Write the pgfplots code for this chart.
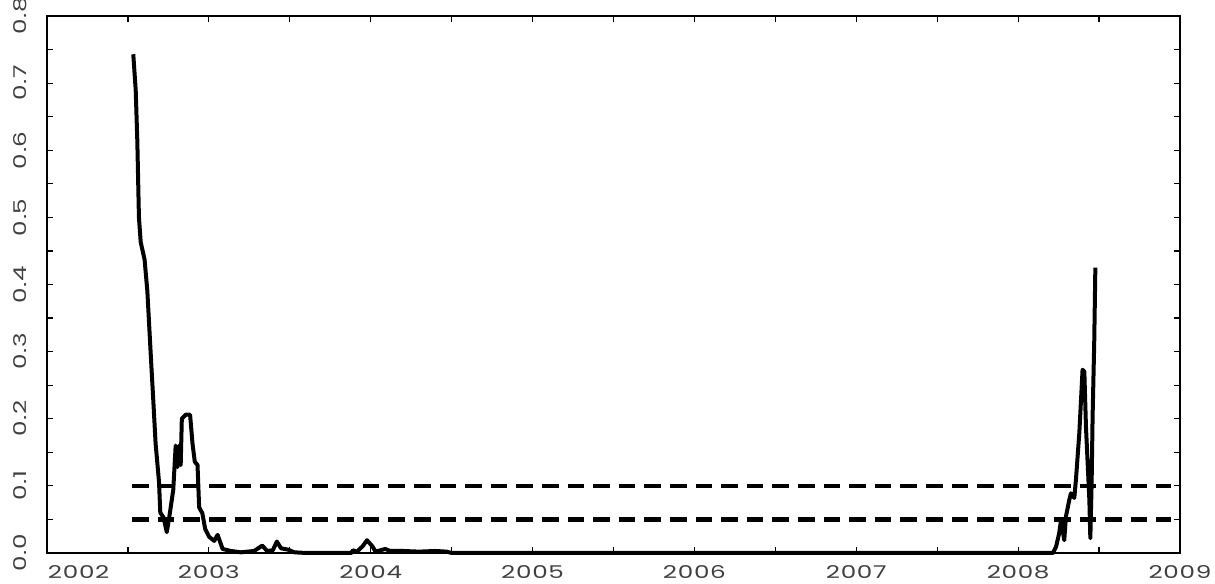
\documentclass[border=0pt]{standalone}
\usepackage{pgfplots}
\pgfplotsset{compat=1.18}
\usepackage{fontspec}
\setmainfont{Poppins}[FakeStretch=1.4, LetterSpace=4]
\newcommand\yl[1]{\rotatebox{90}{\smash{#1}}}
\begin{document}
\begin{tikzpicture}
\begin{axis}[
  scale only axis, width=566.5pt, height=268.5pt,
  xmin=2002, xmax=2009, ymin=0, ymax=0.8,
  clip=false,
  axis line style={line width=1pt},
  tick style={black, line width=0.6pt},
  tick align=inside, major tick length=3pt, minor tick length=3pt,
  xtick={2003,2004,2005,2006,2007,2008,2009},
  xticklabels={2003,2004,2005,2006,2007,2008,2009},
  minor xtick={2002.5,2003.5,2004.5,2005.5,2006.5,2007.5,2008.5},
  extra x ticks={2002}, extra x tick labels={\makebox[0pt][l]{\hspace*{0.5pt}2002}},
  ytick={0,0.1,0.2,0.3,0.4,0.5,0.6,0.7,0.8},
  yticklabels={\yl{0.0},\yl{0.1},\yl{0.2},\yl{0.3},\yl{0.4},\yl{0.5},\yl{0.6},\yl{0.7},\yl{0.8}},
  minor ytick={0.05,0.15,0.25,0.35,0.45,0.55,0.65,0.75},
  tick label style={font=\fontsize{8.8}{10}\selectfont, text=black!75, inner sep=0pt},
  xticklabel style={anchor=north, text height=6.2pt, text depth=0pt},
  xticklabel shift=6.5pt,
  yticklabel style={anchor=east},
  yticklabel shift=9.5pt,
]
\coordinate (SW) at (rel axis cs:0,0);
\coordinate (NE) at (rel axis cs:1,1);
\addplot[black, line width=2.2pt, dash pattern=on 8.3pt off 4.5pt] coordinates {(2002.527,0.1) (2008.945,0.1)};
\addplot[black, line width=2.2pt, dash pattern=on 8.3pt off 4.5pt] coordinates {(2002.527,0.05) (2008.945,0.05)};
\addplot[black, line width=2pt, line join=round] coordinates {
(2002.533,0.743) (2002.548,0.690) (2002.558,0.614) (2002.568,0.500) (2002.579,0.463)
(2002.603,0.437) (2002.620,0.390) (2002.640,0.300) (2002.657,0.226) (2002.671,0.163)
(2002.692,0.106) (2002.700,0.060) (2002.720,0.053) (2002.740,0.031) (2002.754,0.051)
(2002.780,0.094) (2002.795,0.160) (2002.806,0.128) (2002.816,0.160) (2002.826,0.131)
(2002.833,0.200) (2002.857,0.206) (2002.884,0.206) (2002.899,0.163) (2002.913,0.136)
(2002.930,0.131) (2002.940,0.068) (2002.960,0.059) (2002.977,0.036) (2003.002,0.024)
(2003.033,0.018) (2003.054,0.027) (2003.085,0.006) (2003.136,0.003) (2003.198,0.001)
(2003.280,0.003) (2003.330,0.011) (2003.360,0.003) (2003.395,0.004) (2003.420,0.017)
(2003.446,0.007) (2003.488,0.005) (2003.529,0.001) (2003.600,0) (2003.880,0)
(2003.890,0.004) (2003.915,0.002) (2003.950,0.010) (2003.977,0.019) (2004.010,0.010)
(2004.030,0.002) (2004.060,0.004) (2004.090,0.006) (2004.120,0.003) (2004.200,0.003)
(2004.300,0.002) (2004.400,0.003) (2004.470,0.002) (2004.500,0) (2008.215,0)
(2008.234,0.009) (2008.254,0.030) (2008.265,0.049) (2008.285,0.019) (2008.295,0.054)
(2008.316,0.079) (2008.326,0.089) (2008.347,0.082) (2008.357,0.109) (2008.378,0.179)
(2008.398,0.273) (2008.409,0.270) (2008.419,0.188) (2008.440,0.079) (2008.446,0.022)
(2008.454,0.104) (2008.460,0.203) (2008.470,0.313) (2008.477,0.425)
};
\end{axis}
\pgfresetboundingbox
\path ([shift={(-23.5pt,-15.5pt)}]SW) rectangle ([shift={(17.5pt,8pt)}]NE);
\end{tikzpicture}
\end{document}
